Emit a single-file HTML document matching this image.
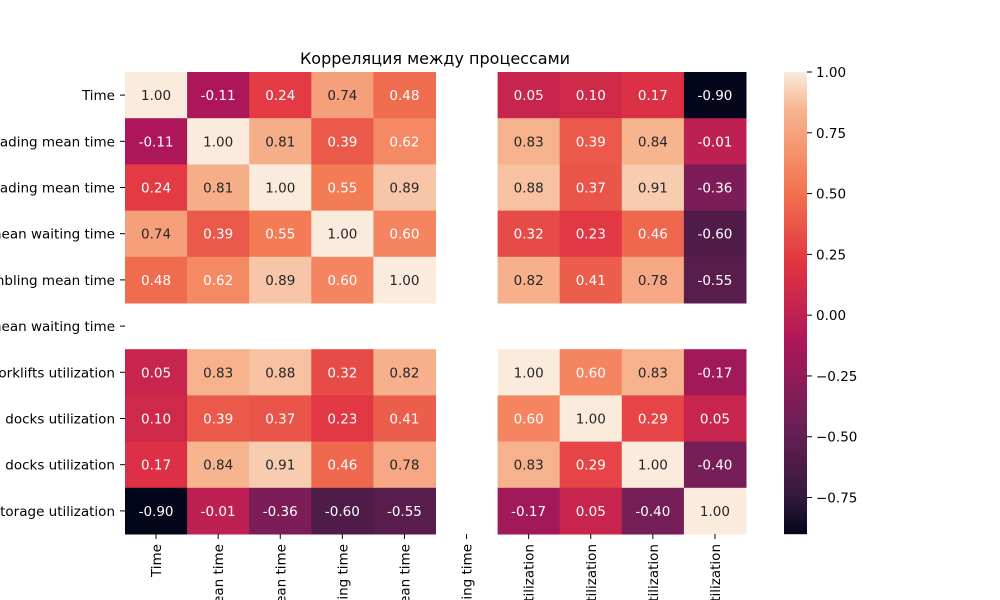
<!DOCTYPE html>
<html><head><meta charset="utf-8"><style>
html,body{margin:0;padding:0;background:#fff;width:1000px;height:600px;overflow:hidden;}
svg{display:block;font-family:"DejaVu Sans","Liberation Sans",sans-serif;overflow:hidden;}
</style></head><body>
<svg id="chart" width="1000" height="600">
<text x="435" y="64" text-anchor="middle" font-size="16">Корреляция между процессами</text>
<g id="cells"></g>
<g id="ylabels"></g>
<g id="xlabels"></g>
<g id="cbar"></g>
</svg>
<script>
const labels = ["Time","Unloading mean time","Loading mean time","Truck mean waiting time","Disassembling mean time","Ship mean waiting time","Forklifts utilization","Unloading docks utilization","Loading docks utilization","Storage utilization"];
const row0 = [1.00,-0.11,0.24,0.74,0.48,null,0.05,0.10,0.17,-0.90];
const row1 = [-0.11,1.00,0.81,0.39,0.62,null,0.83,0.39,0.84,-0.01];
const row2 = [0.24,0.81,1.00,0.55,0.89,null,0.88,0.37,0.91,-0.36];
const row3 = [0.74,0.39,0.55,1.00,0.60,null,0.32,0.23,0.46,-0.60];
const row4 = [0.48,0.62,0.89,0.60,1.00,null,0.82,0.41,0.78,-0.55];
const row5 = [null,null,null,null,null,null,null,null,null,null];
const row6 = [0.05,0.83,0.88,0.32,0.82,null,1.00,0.60,0.83,-0.17];
const row7 = [0.10,0.39,0.37,0.23,0.41,null,0.60,1.00,0.29,0.05];
const row8 = [0.17,0.84,0.91,0.46,0.78,null,0.83,0.29,1.00,-0.40];
const row9 = [-0.90,-0.01,-0.36,-0.60,-0.55,null,-0.17,0.05,-0.40,1.00];
const matrix = [row0,row1,row2,row3,row4,row5,row6,row7,row8,row9];
const cbarTicks = [1.00,0.75,0.50,0.25,0.00,-0.25,-0.50,-0.75];
const vmin = -0.90, vmax = 1.00;

const NS="http://www.w3.org/2000/svg";
const X0=125, X1=746, Y0=72, Y1=534;
const n=labels.length, cw=(X1-X0)/n, ch=(Y1-Y0)/n;
const xPos=i=>X0+i*cw, yPos=i=>Y0+i*ch;
const stops=[[0,"#03051a"],[0.083,"#35193e"],[0.25,"#701f57"],[0.417,"#ad1759"],[0.583,"#e13342"],[0.75,"#f37651"],[0.917,"#f6b48f"],[1,"#faebdd"]];
function hex(h){return [1,3,5].map(k=>parseInt(h.substr(k,2),16));}
function cmap(t){t=Math.max(0,Math.min(1,t));
 for(let i=1;i<stops.length;i++){if(t<=stops[i][0]){const a=stops[i-1],b=stops[i];const f=(t-a[0])/(b[0]-a[0]);const ca=hex(a[1]),cb=hex(b[1]);return ca.map((v,k)=>Math.round(v+(cb[k]-v)*f));}}
 return hex(stops[stops.length-1][1]);}
function lum(c){const l=c.map(v=>{v/=255;return v<=0.03928?v/12.92:Math.pow((v+0.055)/1.055,2.4);});return 0.2126*l[0]+0.7152*l[1]+0.0722*l[2];}
const norm=v=>(v-vmin)/(vmax-vmin);
function mk(tag,attrs,parent){const e=document.createElementNS(NS,tag);for(const k in attrs)e.setAttribute(k,attrs[k]);parent.appendChild(e);return e;}

const cells=document.getElementById('cells');
matrix.forEach((row,r)=>row.forEach((v,c)=>{
 if(v===null)return;
 const col=cmap(norm(v));
 const rect=mk('rect',{x:xPos(c),y:yPos(r),width:cw+0.5,height:ch+0.5,fill:`rgb(${col})`},cells);
 
 
 const t=mk('text',{x:xPos(c)+cw/2,y:yPos(r)+ch/2+5,'text-anchor':'middle','font-size':'13.5',fill:lum(col)>0.408?'#262626':'#ffffff'},cells);
 t.textContent=v.toFixed(2);
 
 
}));
const yl=document.getElementById('ylabels');
labels.forEach((lab,i)=>{
 const y=yPos(i)+ch/2;
 mk('line',{x1:120,x2:125,y1:y,y2:y,stroke:'#000','stroke-width':1},yl);
 const t=mk('text',{x:115,y:y+5,'text-anchor':'end','font-size':'13.5',fill:'#000'},yl);
 t.textContent=lab;
 
 
});
const xl=document.getElementById('xlabels');
labels.forEach((lab,i)=>{
 const x=xPos(i)+cw/2;
 mk('line',{x1:x,x2:x,y1:534,y2:539,stroke:'#000','stroke-width':1},xl);
 const t=mk('text',{x:0,y:0,'text-anchor':'end','font-size':'13.5',fill:'#000',transform:`translate(${x+5},544) rotate(-90)`},xl);
 t.textContent=lab;
 
 
});
const cb=document.getElementById('cbar');
const CX=784,CW=23;
const cy=v=>Y1-(v-vmin)/(vmax-vmin)*(Y1-Y0);
for(let y=Y0;y<Y1;y++){
 const v=vmax-(y-Y0+0.5)/(Y1-Y0)*(vmax-vmin);
 mk('rect',{x:CX,y:y,width:CW,height:1.2,fill:`rgb(${cmap(norm(v))})`},cb);
}
cbarTicks.forEach(v=>{
 const y=cy(v);
 mk('line',{x1:CX+CW,x2:CX+CW+5,y1:y,y2:y,stroke:'#000','stroke-width':1},cb);
 const t=mk('text',{x:CX+CW+9,y:y+5,'font-size':'13.5',fill:'#000'},cb);
 t.textContent=(v<0?'\u2212':'')+Math.abs(v).toFixed(2);
 
 
});
</script>
</body></html>
